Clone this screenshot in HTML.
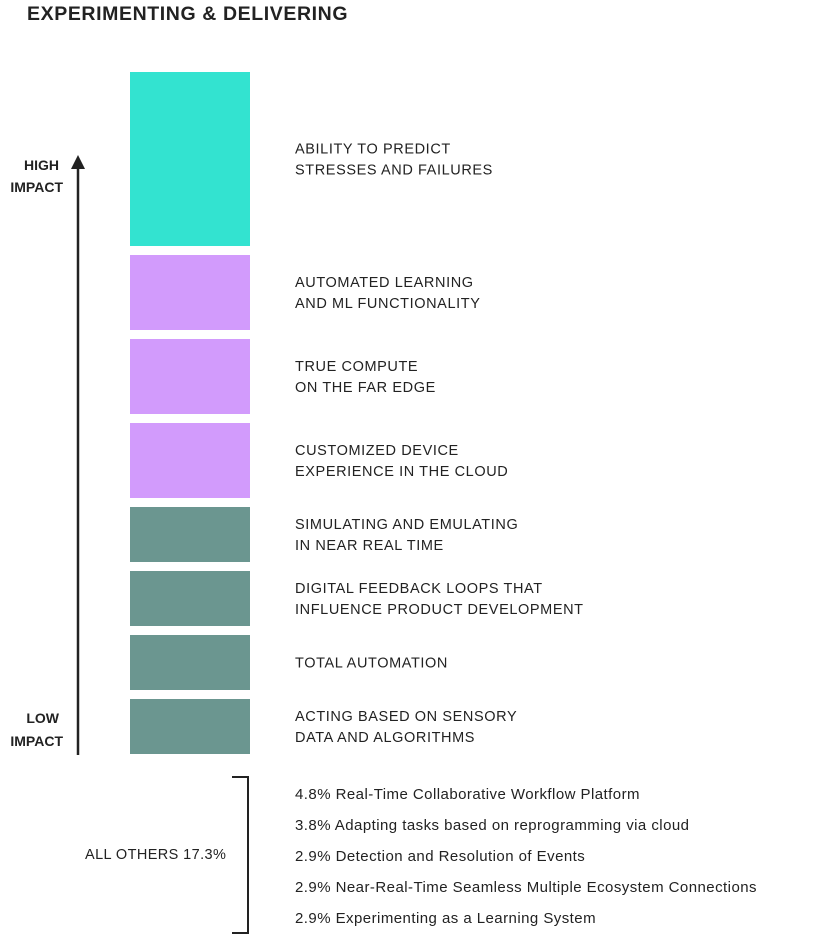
<!DOCTYPE html>
<html><head><meta charset="utf-8"><style>
body{margin:0;background:#fff;width:828px;height:935px;overflow:hidden;font-family:"Liberation Sans",sans-serif;color:#222}
svg text{font-family:"Liberation Sans",sans-serif;fill:#222}
</style></head><body>
<svg width="828" height="935">
<text x="27" y="20" font-size="19.5" font-weight="bold" letter-spacing="0.6">EXPERIMENTING &amp; DELIVERING</text>
<line x1="78" y1="168" x2="78" y2="755" stroke="#222" stroke-width="2.5"/>
<polygon points="71,169 85,169 78,155" fill="#222"/>
<text x="59" y="170" font-size="14" font-weight="bold" text-anchor="end">HIGH</text>
<text x="63" y="192" font-size="14" font-weight="bold" text-anchor="end">IMPACT</text>
<text x="59" y="723" font-size="14" font-weight="bold" text-anchor="end">LOW</text>
<text x="63" y="746" font-size="14" font-weight="bold" text-anchor="end">IMPACT</text>
<g id="bars"></g>
<path d="M232,777 H248 V933 H232" fill="none" stroke="#222" stroke-width="2"/>
<text x="85" y="859" font-size="14.5" letter-spacing="0.4">ALL OTHERS 17.3%</text>
<g id="others"></g>
</svg>
<script>
const labels=[["ABILITY TO PREDICT","STRESSES AND FAILURES"],["AUTOMATED LEARNING","AND ML FUNCTIONALITY"],["TRUE COMPUTE","ON THE FAR EDGE"],["CUSTOMIZED DEVICE","EXPERIENCE IN THE CLOUD"],["SIMULATING AND EMULATING","IN NEAR REAL TIME"],["DIGITAL FEEDBACK LOOPS THAT","INFLUENCE PRODUCT DEVELOPMENT"],["TOTAL AUTOMATION"],["ACTING BASED ON SENSORY","DATA AND ALGORITHMS"]];
const values=[17.4,7.5,7.5,7.5,5.5,5.5,5.5,5.5];
const colors=["#33e3d0","#d29bfc","#d29bfc","#d29bfc","#6b9690","#6b9690","#6b9690","#6b9690"];
const others=["4.8% Real-Time Collaborative Workflow Platform","3.8% Adapting tasks based on reprogramming via cloud","2.9% Detection and Resolution of Events","2.9% Near-Real-Time Seamless Multiple Ecosystem Connections","2.9% Experimenting as a Learning System"];
const NS="http://www.w3.org/2000/svg";
const scale=10, gap=9, top0=72;
const g=document.getElementById('bars');
let y=top0;
values.forEach((v,i)=>{
 const h=v*scale;
 const r=document.createElementNS(NS,'rect');
 r.setAttribute('x',130);r.setAttribute('y',y);r.setAttribute('width',120);r.setAttribute('height',h);r.setAttribute('fill',colors[i]);
 
 
 g.appendChild(r);
 const ls=labels[i];const cy=y+h/2;
 ls.forEach((t,j)=>{
  const tx=document.createElementNS(NS,'text');
  tx.setAttribute('x',295);tx.setAttribute('y',cy+5+(j-(ls.length-1)/2)*21);
  tx.setAttribute('font-size','14.5');tx.setAttribute('letter-spacing','0.6');
  tx.textContent=t;
  
  
  g.appendChild(tx);
 });
 y+=h+gap;
});
const go=document.getElementById('others');
others.forEach((t,i)=>{
 const tx=document.createElementNS(NS,'text');
 tx.setAttribute('x',295);tx.setAttribute('y',799+i*31);
 tx.setAttribute('font-size','15');tx.setAttribute('letter-spacing','0.45');
 tx.textContent=t;
 
 
 go.appendChild(tx);
});
</script>
</body></html>
